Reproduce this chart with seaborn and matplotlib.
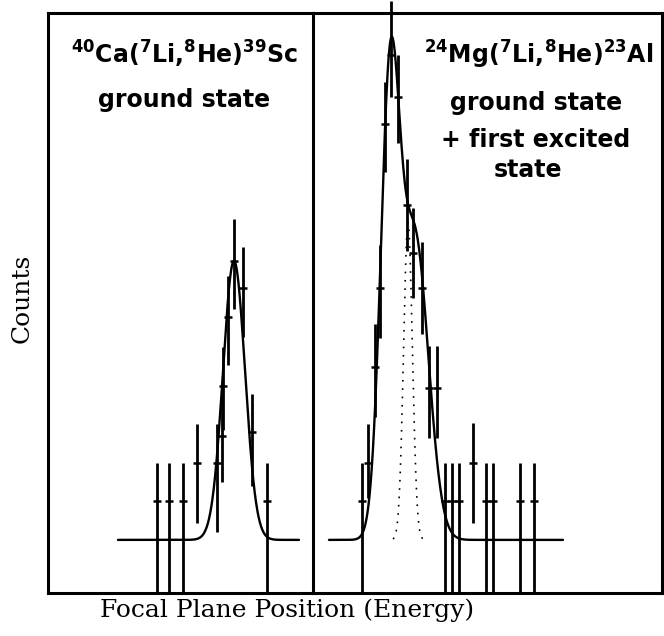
import numpy as np
import pandas as pd
import matplotlib
matplotlib.use("Agg")
import matplotlib.pyplot as plt
import seaborn as sns

# ---- 40Ca(7Li,8He)39Sc spectrum ----
ca_pos = [109, 121, 135, 149, 169, 174, 175, 180, 186, 195, 204, 219]
ca_counts = [1, 1, 1, 2, 2, 2.7, 4.0, 5.8, 7.25, 6.55, 2.8, 1]
ca_err_hi = [1, 1, 1, 1.0, 1.0, 1.2, 1.0, 1.05, 1.1, 1.07, 1.0, 1]
ca_err_lo = [2.38, 2.38, 2.38, 1.55, 1.8, 1.2, 1.15, 1.25, 1.25, 1.27, 1.4, 2.38]
ca_fit_range = [70, 251]
ca_peak = {"center": 186, "amp": 7.25, "sigma": 11.0}

# ---- 24Mg(7Li,8He)23Al spectrum ----
mg_pos = [48.7, 55.3, 62, 67, 72, 77.7, 85.3, 93.7, 100.3, 108.7, 116.3, 123.7,
          132, 138.7, 146, 159.7, 172.7, 180.3, 207, 221.3]
mg_counts = [1, 2, 4.5, 6.55, 10.8, 12.6, 11.5, 8.7, 7.45, 6.55, 3.95, 3.95,
             1, 1, 1, 2, 1, 1, 1, 1]
mg_err_hi = [1, 1, 1.1, 1.1, 1.1, 1.4, 1.1, 1.2, 1.17, 1.2, 1.1, 1.1,
             1, 1, 1, 1.05, 1, 1, 1, 1]
mg_err_lo = [2.38, 0.9, 1.3, 1.3, 1.25, 1.1, 1.2, 1.2, 1.17, 1.2, 1.3, 1.3,
             2.38, 2.38, 2.38, 1.55, 2.38, 2.38, 2.38, 2.38]
mg_fit_range = [16, 250]
mg_ground = {"center": 77, "amp": 11.5, "sigma": 9.5}
mg_excited = {"center": 102, "amp": 7.8, "sigma": 13.5}
mg_component = {"center": 95, "amp": 8.25, "sigma": 4.4}
mg_component_range = [80, 112]

panel_widths = [265, 349]
count_range = [-1.38, 13.69]


def gauss(x, p):
    return p["amp"] * np.exp(-0.5 * ((x - p["center"]) / p["sigma"]) ** 2)


sns.set_style("white")
plt.rcParams["font.family"] = ["DejaVu Sans"]
plt.rcParams["mathtext.default"] = "bf"

fig = plt.figure(figsize=(6.64, 6.36), dpi=100)
left, bottom, height = 48 / 664, 43 / 636, 580 / 636
split = 313 / 664
right_edge = 662 / 664
ax1 = fig.add_axes([left, bottom, split - left, height])
ax2 = fig.add_axes([split, bottom, right_edge - split, height])
ax2.patch.set_alpha(0)

ink = "black"
for ax, w in zip((ax1, ax2), panel_widths):
    ax.set_xlim(0, w)
    ax.set_ylim(*count_range)
    ax.set_xticks([])
    ax.set_yticks([])
    for s in ax.spines.values():
        s.set_color(ink)
        s.set_linewidth(2.2)
ax2.spines["left"].set_visible(False)

# fitted curves
xc = np.linspace(*ca_fit_range, 500)
ca_curve = pd.DataFrame({"pos": xc, "counts": gauss(xc, ca_peak)})
sns.lineplot(data=ca_curve, x="pos", y="counts", ax=ax1, color=ink, lw=1.7)

xm = np.linspace(*mg_fit_range, 700)
mg_curve = pd.DataFrame({"pos": xm, "counts": gauss(xm, mg_ground) + gauss(xm, mg_excited)})
sns.lineplot(data=mg_curve, x="pos", y="counts", ax=ax2, color=ink, lw=1.7)

xd = np.linspace(*mg_component_range, 200)
mg_dots = pd.DataFrame({"pos": xd, "counts": gauss(xd, mg_component)})
sns.lineplot(data=mg_dots, x="pos", y="counts", ax=ax2, color=ink, lw=1.2,
             linestyle=(0, (1, 4)))

# data points with error bars
for ax, x, y, lo, hi in ((ax1, ca_pos, ca_counts, ca_err_lo, ca_err_hi),
                         (ax2, mg_pos, mg_counts, mg_err_lo, mg_err_hi)):
    eb = ax.errorbar(x, y, yerr=[lo, hi], fmt="none", ecolor=ink, elinewidth=2.0, capsize=0)
    for coll in eb.lines[2]:
        coll.set_clip_on(False)
    sns.scatterplot(x=x, y=y, ax=ax, marker="_", s=40, color=ink, linewidth=1.8)
    ax.set_xlabel("")
    ax.set_ylabel("")

tk = dict(ha="center", va="center", fontsize=17, fontweight="bold", color=ink)
ax1.text(0.517, 0.928, r"$^{40}$Ca($^{7}$Li,$^{8}$He)$^{39}$Sc", transform=ax1.transAxes, **tk)
ax1.text(0.513, 0.850, "ground state", transform=ax1.transAxes, **tk)
ax2.text(0.645, 0.928, r"$^{24}$Mg($^{7}$Li,$^{8}$He)$^{23}$Al", transform=ax2.transAxes, **tk)
ax2.text(0.638, 0.845, "ground state", transform=ax2.transAxes, **tk)
ax2.text(0.638, 0.781, "+ first excited", transform=ax2.transAxes, **tk)
ax2.text(0.616, 0.729, "state", transform=ax2.transAxes, **tk)

fig.text(22 / 664, 1 - 298 / 636, "Counts", rotation=90, ha="center", va="center",
         fontsize=18, family="DejaVu Serif", color=ink)
fig.text(287 / 664, 1 - 617 / 636, "Focal Plane Position (Energy)", ha="center",
         va="baseline", fontsize=18, family="DejaVu Serif", color=ink)

fig.savefig("out.png", dpi=100, facecolor="white")
